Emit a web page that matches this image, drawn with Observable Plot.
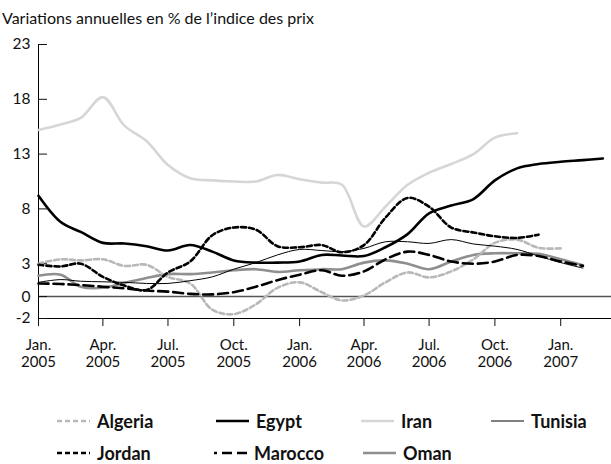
<!DOCTYPE html>
<html><head><meta charset="utf-8">
<script src="https://cdn.jsdelivr.net/npm/d3@7"></script>
<script src="https://cdn.jsdelivr.net/npm/@observablehq/plot@0.6"></script>
<style>
body{margin:0;background:#fff;font-family:Lato,"Open Sans",sans-serif;font-variant-numeric:oldstyle-nums;color:#111;width:611px;height:464px;overflow:hidden;position:relative;}
#title{height:30px;font-size:16px;line-height:36px;padding-left:2px;white-space:nowrap;}
#chart svg{display:block;}
#legend{position:relative;height:74px;}
.item{position:absolute;display:flex;align-items:center;font-weight:bold;font-size:18px;height:20px;line-height:20px;}
.item svg{display:block;margin-right:7px;}
</style></head><body>
<div id="title">Variations annuelles en % de l’indice des prix</div>
<div id="chart"></div>
<div id="legend"></div>
<script>
const months = ["2005-01","2005-02","2005-03","2005-04","2005-05","2005-06","2005-07","2005-08","2005-09","2005-10","2005-11","2005-12",
  "2006-01","2006-02","2006-03","2006-04","2006-05","2006-06","2006-07","2006-08","2006-09","2006-10","2006-11","2006-12",
  "2007-01","2007-02","2007-03"];
const algeria = [3.0,3.4,3.3,3.4,2.8,2.9,1.8,1.2,-1.2,-1.6,-0.7,0.8,1.3,0.4,-0.35,0.1,1.3,2.2,1.75,2.3,3.4,4.9,5.2,4.45,4.4];
const egypt   = [9.2,6.8,5.9,4.9,4.85,4.6,4.2,4.7,4.1,3.3,3.1,3.1,3.2,3.8,3.75,3.7,4.5,5.7,7.6,8.3,8.9,10.6,11.7,12.1,12.3,12.45,12.6];
const iran    = [15.2,15.7,16.3,18.2,15.6,14.2,12.0,10.8,10.6,10.5,10.5,11.1,10.7,10.4,10.2,6.4,8.2,10.2,11.3,12.1,13.0,14.5,14.9];
const tunisia = [1.3,1.55,1.4,1.35,1.3,1.2,1.2,1.45,1.8,2.5,3.1,3.8,4.3,4.2,4.1,4.4,5.0,5.0,4.85,5.2,4.8,4.6,4.3,3.7,3.1,2.6];
const jordan  = [2.9,2.75,3.0,1.8,1.0,0.6,2.2,3.2,5.6,6.3,6.1,4.6,4.5,4.7,4.05,4.7,7.2,9.0,8.2,6.3,5.85,5.5,5.35,5.65];
const marocco = [1.2,1.15,1.05,0.9,0.75,0.55,0.45,0.25,0.2,0.4,0.9,1.5,2.0,2.4,1.9,2.3,3.4,4.1,3.8,3.2,3.0,3.2,3.8,3.7,3.2,2.8];
const oman    = [1.9,2.0,0.9,0.8,1.25,1.7,2.05,2.05,2.2,2.4,2.5,2.25,2.4,2.5,2.5,3.1,3.3,3.0,2.5,3.2,3.8,3.95,3.95,3.9,3.4,2.85];

const yTicks = [-2,0,3,8,13,18,23];
const yTickLabels = ["-2","0","3","8","13","18","23"];
const xTicks = ["2005-01","2005-04","2005-07","2005-10","2006-01","2006-04","2006-07","2006-10","2007-01"];
const xTickLabels = ["Jan.\n2005","Apr.\n2005","Jul.\n2005","Oct.\n2005","Jan.\n2006","Apr.\n2006","Jul.\n2006","Oct.\n2006","Jan.\n2007"];

const seriesStyles = [
  {name:"Algeria", values:algeria, stroke:"#b8b8b8", width:2.6, dash:"5,3"},
  {name:"Egypt",   values:egypt,   stroke:"#000",    width:2.6, dash:null},
  {name:"Iran",    values:iran,    stroke:"#d6d6d6", width:2.6, dash:null},
  {name:"Tunisia", values:tunisia, stroke:"#000",    width:1,   dash:null},
  {name:"Jordan",  values:jordan,  stroke:"#000",    width:2.6, dash:"5,3"},
  {name:"Marocco", values:marocco, stroke:"#000",    width:2.6, dash:"10,5"},
  {name:"Oman",    values:oman,    stroke:"#8f8f8f", width:2.6, dash:null}
];
const drawOrder = ["Iran","Oman","Algeria","Marocco","Tunisia","Jordan","Egypt"];

const parse = d3.utcParse("%Y-%m");
const labelMap = new Map(xTicks.map((t,i)=>[+parse(t), xTickLabels[i]]));
const yLabelMap = new Map(yTicks.map((t,i)=>[t, yTickLabels[i]]));

const lineMarks = drawOrder.map(n => {
  const s = seriesStyles.find(d => d.name === n);
  const data = s.values.map((v,i)=>({date: parse(months[i]), v}));
  return Plot.line(data, {x:"date", y:"v", stroke:s.stroke, strokeWidth:s.width,
    strokeDasharray: s.dash || undefined, curve:"catmull-rom", strokeLinejoin:"round"});
});

const chart = Plot.plot({
  width: 611, height: 360,
  marginLeft: 38, marginRight: 0, marginTop: 14, marginBottom: 72,
  style: {fontFamily: "Lato, 'Open Sans', sans-serif", fontSize: "15px", fontVariantNumeric: "oldstyle-nums", color:"#111", background:"#fff"},
  x: {type:"utc", domain:[parse("2005-01"), new Date(Date.UTC(2007,2,13))]},
  y: {domain:[-2,23]},
  marks: [
    Plot.ruleY([0], {stroke:"#555", strokeWidth:1.5}),
    Plot.ruleY([-2], {stroke:"#000", strokeWidth:1}),
    Plot.ruleX([parse("2005-01")], {y1:-2, y2:23, stroke:"#000", strokeWidth:1}),
    Plot.axisY(yTicks, {tickSize:-9, tickPadding:17, tickFormat: d => yLabelMap.get(d), fontSize:15.5, label:null}),
    Plot.axisX(xTicks.map(parse), {tickSize:8, tickPadding:11, tickFormat: d => labelMap.get(+d), fontSize:15, lineHeight:1.15, label:null}),
    ...lineMarks
  ]
});
document.getElementById("chart").append(chart);

// legend
const legendPos = {
  Algeria:[57,21], Egypt:[216,21], Iran:[361,21], Tunisia:[491,21],
  Jordan:[57,53], Marocco:[214,53], Oman:[363,53]
};
const legend = document.getElementById("legend");
seriesStyles.forEach(s => {
  const [left, top] = legendPos[s.name];
  const div = document.createElement("div");
  div.className = "item";
  div.style.left = left + "px";
  div.style.top = top + "px";
  const w = 33;
  const dashOffset = s.name === "Marocco" ? 7 : 0;
  div.innerHTML = `<svg width="${w}" height="10"><line x1="0" x2="${w}" y1="5" y2="5" stroke="${s.stroke}" stroke-width="${s.width}" ${s.dash ? `stroke-dasharray="${s.dash}" stroke-dashoffset="${dashOffset}"` : ""}/></svg><span>${s.name}</span>`;
  legend.append(div);
});
</script>
</body></html>
